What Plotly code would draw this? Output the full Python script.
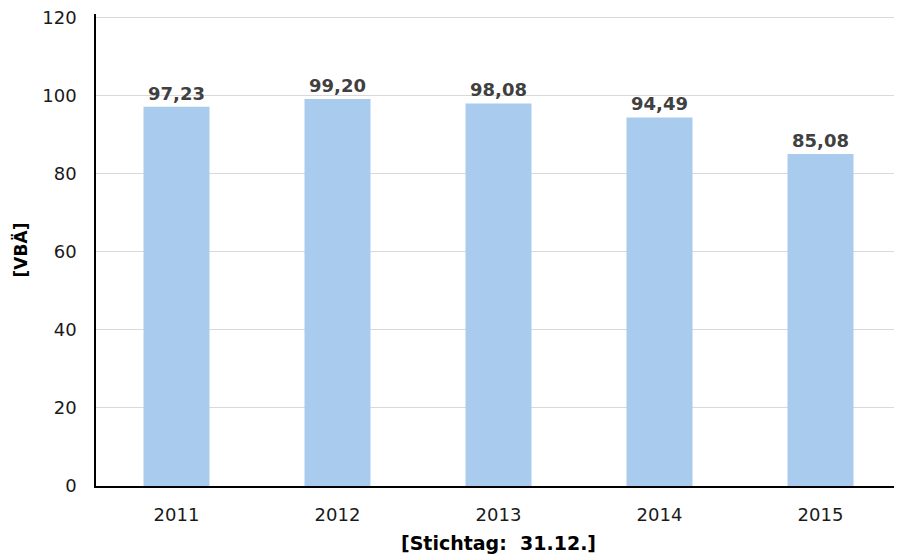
import plotly.graph_objects as go

years = ["2011", "2012", "2013", "2014", "2015"]
values = [97.23, 99.20, 98.08, 94.49, 85.08]
labels = ["97,23", "99,20", "98,08", "94,49", "85,08"]
y_ticks = [0, 20, 40, 60, 80, 100, 120]

fig = go.Figure(go.Bar(
    x=years, y=values, text=labels, textposition="outside",
    texttemplate="<b>%{text}</b>", cliponaxis=False,
    textfont=dict(family="DejaVu Sans", size=18, color="#404040"),
    marker=dict(color="#A9CBEE", line=dict(width=0)),
    width=0.41,
))

fig.update_layout(
    width=902, height=555,
    margin=dict(l=88, r=9, t=6, b=77),
    plot_bgcolor="white", paper_bgcolor="white",
    showlegend=False,
    font=dict(family="DejaVu Sans", size=18, color="#000000"),
)
fig.update_xaxes(
    type="category",
    showline=True, linecolor="#000000", linewidth=1.5,
    ticks="outside", ticklen=12, tickcolor="rgba(0,0,0,0)",
    tickfont=dict(size=18, family="DejaVu Sans", color="#1a1a1a"),
    title=dict(text="<b>[Stichtag:  31.12.]</b>", font=dict(size=19, family="DejaVu Sans"), standoff=12),
)
fig.update_yaxes(
    automargin=False,
    range=[0, 121], tickvals=y_ticks, showline=True, linecolor="#000000", linewidth=1.5,
    gridcolor="#D9D9D9", gridwidth=1, ticklabeloverflow="allow",
    ticks="outside", ticklen=14, tickcolor="rgba(0,0,0,0)",
    tickfont=dict(size=18, family="DejaVu Sans", color="#1a1a1a"),
    title=dict(text="<b>[VBÄ]</b>", font=dict(size=17, family="DejaVu Sans"), standoff=10),
    zeroline=False,
)
fig.write_html("out.html")
